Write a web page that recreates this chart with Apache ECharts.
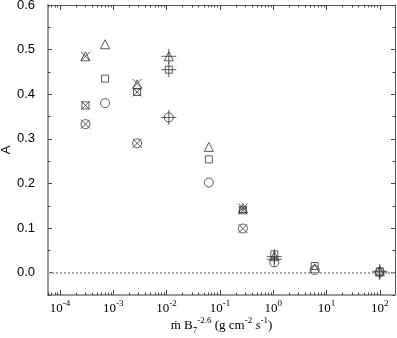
<!DOCTYPE html>
<html>
<head>
<meta charset="utf-8">
<script src="https://cdn.jsdelivr.net/npm/echarts@6/dist/echarts.min.js"></script>
<style>
  html, body { margin: 0; padding: 0; background: #fff; }
  #chart { width: 397px; height: 338px; }
</style>
</head>
<body>
<div id="chart"></div>
<script>
// x values (mass flux, g cm^-2 s^-1) and A for each marker set
const triangleX = [3e-4, 7e-4, 2.8e-3, 1.1e-2, 6.2e-2, 0.27, 1.05, 6, 100];
const triangleA = [0.485, 0.512, 0.422, 0.485, 0.282, 0.145, 0.037, 0.010, 0.003];
const squareX = [3e-4, 7e-4, 2.8e-3, 1.1e-2, 6.2e-2, 0.27, 1.05, 6, 100];
const squareA = [0.375, 0.435, 0.405, 0.455, 0.254, 0.140, 0.041, 0.015, 0.003];
const circleX = [3e-4, 7e-4, 2.8e-3, 1.1e-2, 6.2e-2, 0.27, 1.05, 6, 100];
const circleA = [0.333, 0.380, 0.290, 0.348, 0.202, 0.099, 0.023, 0.006, 0.001];
const crossX = [3e-4, 3e-4, 3e-4, 2.8e-3, 2.8e-3, 2.8e-3, 0.27, 0.27, 0.27];
const crossA = [0.485, 0.375, 0.333, 0.424, 0.405, 0.290, 0.145, 0.140, 0.099];
const plusX = [1.1e-2, 1.1e-2, 1.1e-2, 1.05, 1.05, 100, 100];
const plusA = [0.485, 0.455, 0.348, 0.036, 0.030, 0.003, 0.000];

const xDecades = [-4, -3, -2, -1, 0, 1, 2];
const yTicks = [0, 0.1, 0.2, 0.3, 0.4, 0.5, 0.6];
const yMinor = [-0.05, 0.05, 0.15, 0.25, 0.35, 0.45, 0.55];

const XMIN = -4.225, XMAX = 2.285;
const YMIN = -0.05, YMAX = 0.6;

// log-spaced minor ticks in each decade
const xMinor = [];
for (let d = -5; d <= 2; d++) {
    for (let k = 2; k <= 9; k++) {
        const v = Math.log10(k) + d;
        if (v > XMIN && v < XMAX) xMinor.push(v);
    }
}

const toPts = (xs, ys) => xs.map((x, i) => [Math.log10(x), ys[i]]);

const serif = 'Liberation Serif';
const sans = 'Liberation Sans';
const lineCol = '#9a9a9a';
const markCol = '#333';

const xAxisBase = (pos, ticks, len, showLine) => ({
    type: 'value', position: pos, min: XMIN, max: XMAX,
    axisLine: { show: showLine, onZero: false, lineStyle: { color: lineCol, width: 2 } },
    axisTick: { inside: true, length: len, customValues: ticks, lineStyle: { color: '#444' } },
    axisLabel: { show: false },
    splitLine: { show: false }
});
const yAxisBase = (pos, ticks, len, showLine) => ({
    type: 'value', position: pos, min: YMIN, max: YMAX,
    axisLine: { show: showLine, onZero: false, lineStyle: { color: lineCol, width: 2 } },
    axisTick: { inside: true, length: len, customValues: ticks, lineStyle: { color: '#444' } },
    axisLabel: { show: false },
    splitLine: { show: false }
});

// bottom-aligned tokens; padding lifts superscripts
const txt = (size, extra) => Object.assign({
    fontFamily: serif, fontSize: size, color: '#000', verticalAlign: 'bottom'
}, extra);

const xMain = xAxisBase('bottom', xDecades, 5, true);
xMain.axisLabel = {
    show: true, customValues: xDecades, margin: 4,
    formatter: v => '{b|10}{s|' + Math.round(v) + '}',
    rich: {
        b: txt(13, { padding: [0, 0, 0, 0] }),
        s: txt(9, { padding: [0, 0, 7, 0] })
    }
};
xMain.name = '{n|ṁ B}{sub|7}{sup|-2.6}{n| (g cm}{sup|-2}{it| s}{sup|-1}{n|)}';
xMain.nameLocation = 'middle';
xMain.nameGap = 21;
xMain.nameMoveOverlap = false;
xMain.nameTextStyle = {
    rich: {
        n: txt(13, { padding: [0, 0, 3, 0] }),
        it: txt(13, { fontStyle: 'italic', padding: [0, 0, 3, 0] }),
        sub: txt(9, { padding: [0, 0, 0, 0] }),
        sup: txt(9, { padding: [0, 0, 10, 0] })
    }
};

const yMain = yAxisBase('left', yTicks, 4, true);
yMain.axisLabel = {
    show: true, customValues: yTicks, margin: 13,
    fontFamily: sans, fontSize: 13, color: '#000',
    formatter: v => v.toFixed(1)
};
yMain.name = 'A';
yMain.nameLocation = 'middle';
yMain.nameGap = 35;
yMain.nameMoveOverlap = false;
yMain.nameTextStyle = { fontFamily: sans, fontSize: 13, color: '#000' };

const xTop = xAxisBase('top', xDecades, 5, true);
xTop.axisLine.lineStyle = { color: '#555', width: 1 };
const yRight = yAxisBase('right', yTicks, 4, true);
yRight.axisLine.lineStyle = { color: '#555', width: 1 };

const openStyle = { color: 'none', borderColor: markCol, borderWidth: 1 };

const option = {
    animation: false,
    backgroundColor: '#fff',
    grid: { left: 48, right: 2, top: 5, bottom: 43, outerBoundsMode: 'none' },
    xAxis: [
        xMain,
        xAxisBase('bottom', xMinor, 2.5, false),
        xTop,
        xAxisBase('top', xMinor, 2.5, false)
    ],
    yAxis: [
        yMain,
        yAxisBase('left', yMinor, 2.5, false),
        yRight,
        yAxisBase('right', yMinor, 2.5, false)
    ],
    series: [
        {
            type: 'scatter', symbol: 'triangle', symbolSize: 9,
            itemStyle: openStyle, data: toPts(triangleX, triangleA),
            markLine: {
                silent: true, symbol: 'none', label: { show: false },
                lineStyle: { color: '#a8a8a8', type: 'dotted', width: 2 },
                data: [{ yAxis: 0 }]
            }
        },
        {
            type: 'scatter', symbol: 'rect', symbolSize: 7,
            itemStyle: openStyle, data: toPts(squareX, squareA)
        },
        {
            type: 'scatter', symbol: 'circle', symbolSize: 9,
            itemStyle: openStyle, data: toPts(circleX, circleA)
        },
        {
            type: 'scatter', symbol: 'path://M0,0L10,10M10,0L0,10', symbolSize: 9,
            itemStyle: openStyle, data: toPts(crossX, crossA)
        },
        {
            type: 'scatter', symbol: 'path://M5,0L5,10M0,5L10,5', symbolSize: 15,
            itemStyle: openStyle, data: toPts(plusX, plusA)
        }
    ]
};

const chart = echarts.init(document.getElementById('chart'));
chart.setOption(option);
window.addEventListener('resize', () => chart.resize());
</script>
</body>
</html>
